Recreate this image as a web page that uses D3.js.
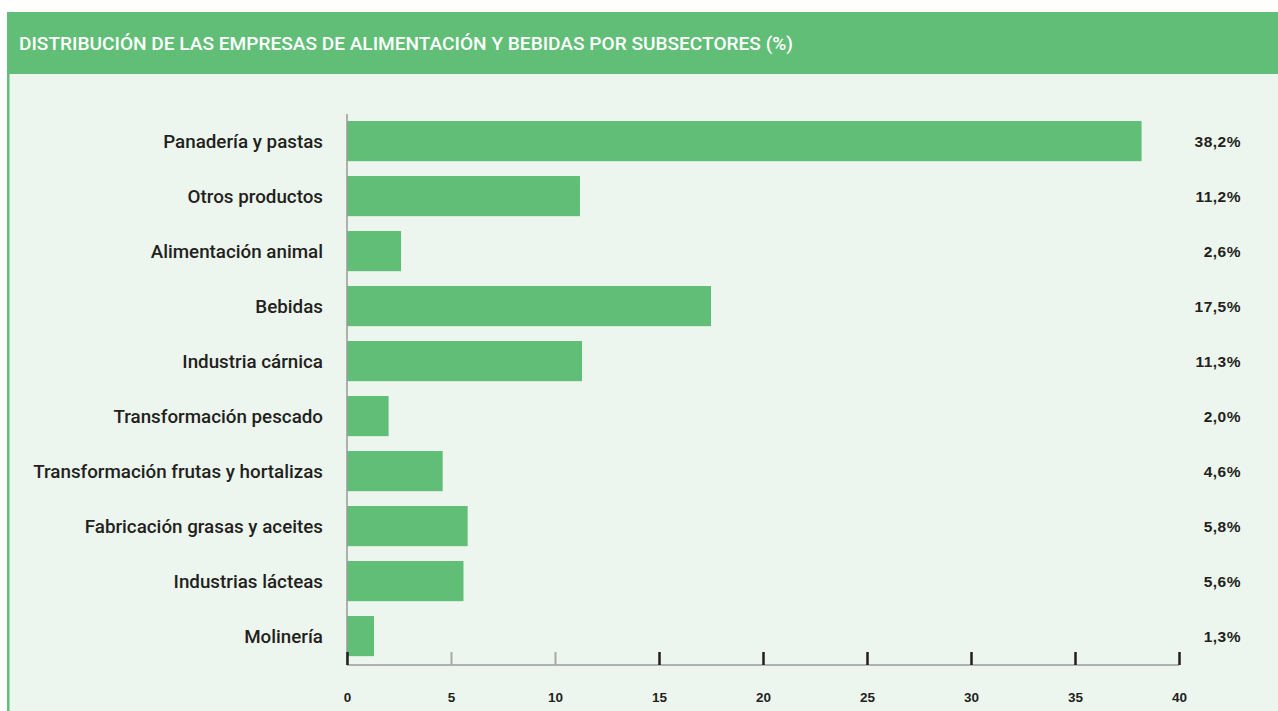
<!DOCTYPE html>
<html>
<head>
<meta charset="utf-8">
<script src="https://cdn.jsdelivr.net/npm/d3@7"></script>
<style>
    body { margin: 0; background: #ffffff; }
    svg { display: block; }
</style>
</head>
<body>
<div id="chart"></div>
<script>
// datos del gráfico
var title = "DISTRIBUCIÓN DE LAS EMPRESAS DE ALIMENTACIÓN Y BEBIDAS POR SUBSECTORES (%)";
var categories = [
    "Panadería y pastas",
    "Otros productos",
    "Alimentación animal",
    "Bebidas",
    "Industria cárnica",
    "Transformación pescado",
    "Transformación frutas y hortalizas",
    "Fabricación grasas y aceites",
    "Industrias lácteas",
    "Molinería"
];
var values = [38.2, 11.2, 2.6, 17.5, 11.3, 2.0, 4.6, 5.8, 5.6, 1.3];
var xTicks = [0, 5, 10, 15, 20, 25, 30, 35, 40];

var W = 1278, H = 711;
var green = "#61be77";
var bg = "#edf6ee";
var ink = "#231f20";

var svg = d3.select("#chart").append("svg")
    .attr("width", W)
    .attr("height", H);

// fondo y cabecera
svg.append("rect")
    .attr("x", 7).attr("y", 12)
    .attr("width", W - 7).attr("height", H - 12)
    .attr("fill", bg);
svg.append("rect")
    .attr("x", 7).attr("y", 12)
    .attr("width", 2.5).attr("height", H - 12)
    .attr("fill", green);
svg.append("rect")
    .attr("x", 7).attr("y", 12)
    .attr("width", W - 7).attr("height", 62)
    .attr("fill", green);
svg.append("text")
    .attr("x", 19).attr("y", 50)
    .attr("fill", "#ffffff")
    .attr("font-family", "'Liberation Sans Narrow', 'Roboto', sans-serif")
    .attr("font-weight", 500)
    .attr("font-size", 18.5)
    .attr("textLength", 774)
    .attr("lengthAdjust", "spacingAndGlyphs")
    .text(title);

// escalas
var x = d3.scaleLinear().domain([0, 40]).range([347, 1179]);
var y = d3.scaleBand()
    .domain(categories)
    .range([113.6, 663.6])
    .paddingInner(0.27)
    .paddingOuter(0.135);

// barras
svg.selectAll(".bar")
    .data(values)
    .enter().append("rect")
    .attr("class", "bar")
    .attr("x", x(0))
    .attr("y", (d, i) => y(categories[i]))
    .attr("width", d => x(d) - x(0))
    .attr("height", y.bandwidth())
    .attr("fill", green);

// eje vertical
svg.append("line")
    .attr("x1", x(0)).attr("x2", x(0))
    .attr("y1", 114).attr("y2", 665)
    .attr("stroke", "#9a9a9a")
    .attr("stroke-width", 1.5);

// etiquetas de categoría
svg.selectAll(".cat")
    .data(categories)
    .enter().append("text")
    .attr("class", "cat")
    .attr("x", 323)
    .attr("y", d => y(d) + y.bandwidth() / 2)
    .attr("dy", "0.36em")
    .attr("text-anchor", "end")
    .attr("fill", ink)
    .attr("font-family", "Roboto, sans-serif")
    .attr("font-weight", 500)
    .attr("font-size", 18.8)
    .text(d => d);

// valores
svg.selectAll(".val")
    .data(values)
    .enter().append("text")
    .attr("class", "val")
    .attr("x", 1241)
    .attr("y", (d, i) => y(categories[i]) + y.bandwidth() / 2)
    .attr("dy", "0.4em")
    .attr("text-anchor", "end")
    .attr("fill", ink)
    .attr("font-family", "'Liberation Sans', Arial, sans-serif")
    .attr("font-weight", "bold")
    .attr("font-size", 15.5)
    .attr("letter-spacing", 0.5)
    .text(d => d.toFixed(1).replace(".", ",") + "%");

// eje horizontal
var xAxis = svg.append("g")
    .attr("transform", "translate(0,665)")
    .call(d3.axisBottom(x)
        .tickValues(xTicks)
        .tickSize(13)
        .tickSizeOuter(0)
        .tickPadding(14));

xAxis.select(".domain")
    .attr("stroke", "#b0b0b0")
    .attr("stroke-width", 2)
    .attr("d", "M" + x(0) + ",0H" + x(40));
xAxis.selectAll(".tick line")
    .attr("transform", "translate(0,-13)")
    .attr("stroke", d => (d === 5 || d === 10) ? "#a8a8a8" : ink)
    .attr("stroke-width", d => (d === 5 || d === 10) ? 2 : 2.5);
xAxis.selectAll(".tick text")
    .attr("fill", ink)
    .attr("font-family", "'Liberation Sans', Arial, sans-serif")
    .attr("font-weight", "bold")
    .attr("font-size", 13.5);
</script>
</body>
</html>
